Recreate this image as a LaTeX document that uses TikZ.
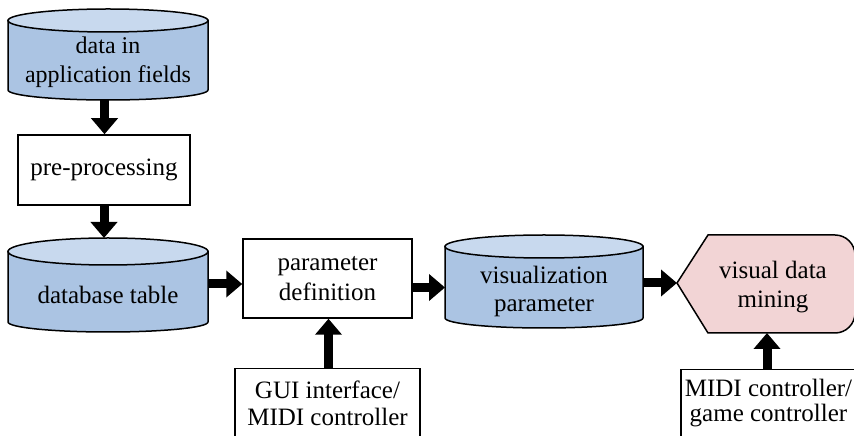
\documentclass[tikz,border=0pt]{standalone}
\usepackage{fontspec}
\setmainfont{Liberation Serif}
\usetikzlibrary{arrows.meta}
\definecolor{cylbody}{HTML}{ABC4E3}
\definecolor{cyltop}{HTML}{C8D9EE}
\definecolor{vdmfill}{HTML}{F2D4D5}
\tikzset{
  x=1pt, y=1pt,
  outline/.style={draw=black, line width=1.5pt},
  boxnode/.style={outline, fill=white, rectangle, inner sep=0pt},
  txt/.style={align=center, inner sep=0pt, font=\fontsize{25}{29}\selectfont},
  arr/.style={line width=9pt, -{Triangle[width=26pt,length=16pt]}},
}
\begin{document}
\begin{tikzpicture}
\useasboundingbox (0,0) rectangle (854,436);
\clip (0,0) rectangle (854,436);

% cylinder 1: data in application fields
\filldraw[outline, fill=cylbody] (8,415.5) -- (8,346)
  arc[start angle=180, end angle=360, x radius=100, y radius=10] -- (208,415.5) -- cycle;
\filldraw[outline, fill=cyltop] (108,415.5) ellipse[x radius=100, y radius=11.5];
\node[txt, font=\fontsize{24}{29}\selectfont] (c1) at (108,374) {data in\\application fields};
\coordinate (c1b) at (104.5,336);

% pre-processing
\node[boxnode, txt, outline, minimum width=172pt, minimum height=70pt] (pre) at (104,266) {pre-processing};

% database table cylinder
\filldraw[outline, fill=cylbody] (8,184.5) -- (8,114)
  arc[start angle=180, end angle=360, x radius=100, y radius=10] -- (208,184.5) -- cycle;
\filldraw[outline, fill=cyltop] (108,184.5) ellipse[x radius=100, y radius=13.5];
\node[txt] (db) at (108,141.5) {database table};
\coordinate (dbt) at (104,198);
\coordinate (dbr) at (208,152);

% parameter definition
\node[boxnode, txt, outline, minimum width=169pt, minimum height=79pt,
      font=\fontsize{25}{30}\selectfont] (param) at (327.5,157.5) {parameter\\definition};

% visualization parameter cylinder
\filldraw[outline, fill=cylbody] (445,189.5) -- (445,118)
  arc[start angle=180, end angle=360, x radius=99, y radius=10] -- (643,189.5) -- cycle;
\filldraw[outline, fill=cyltop] (544,189.5) ellipse[x radius=99, y radius=11.5];
\node[txt, font=\fontsize{25}{28}\selectfont] (vis) at (544,145) {visualization\\parameter};
\coordinate (visl) at (445,148.5);
\coordinate (visr) at (643,153);

% visual data mining (display shape)
\filldraw[outline, fill=vdmfill] (677,153) -- (708,201) -- (835,201)
  arc[start angle=90, end angle=0, radius=20] -- (855,123)
  arc[start angle=0, end angle=-90, radius=20] -- (708,103) -- cycle;
\node[txt] (vdm) at (773,149) {visual data\\mining};
\coordinate (vdml) at (677,153);
\coordinate (vdmb) at (767,103);

% GUI interface / MIDI controller box
\node[boxnode, outline, minimum width=185pt, minimum height=90pt, anchor=north] (gui) at (327.5,68) {};
\node[txt, font=\fontsize{25}{27}\selectfont, anchor=north] (guit) at ([yshift=-13pt]gui.north) {GUI interface/\\MIDI controller};

% MIDI controller / game controller box
\node[boxnode, outline, minimum width=186pt, minimum height=90pt, anchor=north west] (midi) at (680,67) {};
\node[txt, font=\fontsize{25}{25}\selectfont, anchor=north] (miditxt) at (768.5,57) {MIDI controller/\\game controller};

% connectors
\draw[arr] (c1b) -- (c1b |- pre.north);
\draw[arr] (pre.south) -- (dbt);
\draw[arr] (dbr) -- (param.west |- dbr);
\draw[arr] (param.east |- visl) -- (visl);
\draw[arr] (visr) -- (vdml);
\draw[arr] ([xshift=1pt]gui.north) -- ([xshift=1pt]gui.north |- param.south);
\draw[arr] (midi.north -| vdmb) -- (vdmb);
\end{tikzpicture}
\end{document}
